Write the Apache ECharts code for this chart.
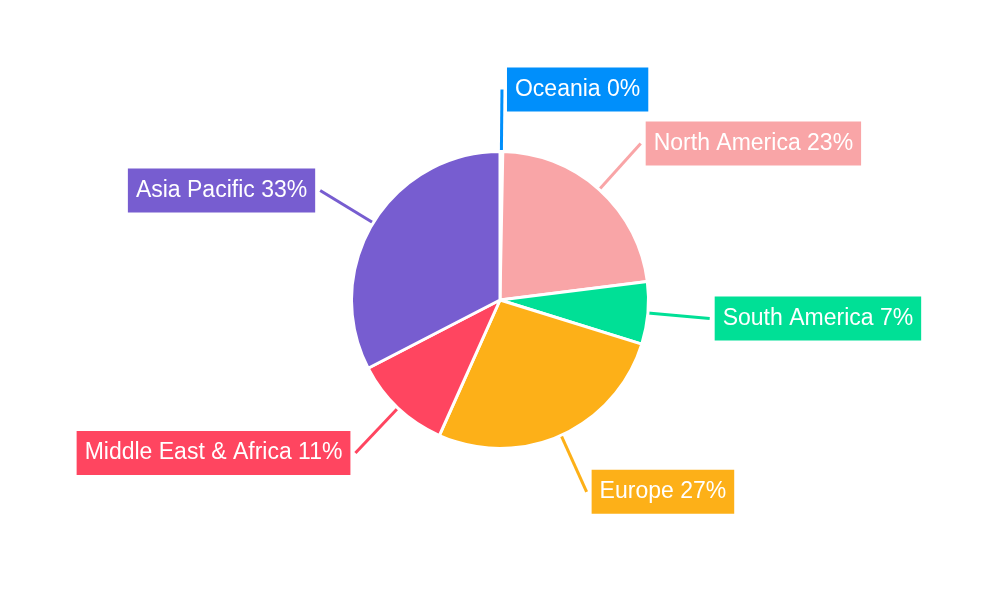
<!DOCTYPE html>
<html>
<head>
<meta charset="utf-8">
<script src="https://cdn.jsdelivr.net/npm/echarts@6/dist/echarts.min.js"></script>
<style>html,body{margin:0;padding:0;background:#fff}#chart{width:1000px;height:600px}</style>
</head>
<body>
<div id="chart"></div>
<script>
// regions, clockwise from the top
const regions = ['Oceania', 'North America', 'South America', 'Europe', 'Middle East & Africa', 'Asia Pacific']
const shares = [0.3, 22.7, 6.8, 26.9, 10.7, 32.6]
const colors = ['#008ffb', '#f9a5a7', '#00e096', '#fdb018', '#ff4560', '#775dd0']

const chart = echarts.init(document.getElementById('chart'))
chart.setOption({
  animation: false,
  series: [{
    type: 'pie',
    center: ['50%', '50%'],
    radius: '49.5%',
    startAngle: 90,
    clockwise: true,
    percentPrecision: 2,
    itemStyle: { borderColor: '#fff', borderWidth: 3 },
    label: {
      // plain rounding of each share, like the original
      formatter: p => p.name + ' ' + Math.round(p.percent) + '%',
      color: '#fff',
      fontSize: 23,
      fontFamily: 'Liberation Sans, Arial, sans-serif',
      padding: [11, 8, 10, 8],
      backgroundColor: 'inherit'
    },
    labelLine: { length: 62, length2: 0, lineStyle: { width: 3 } },
    data: regions.map((name, i) => ({
      name,
      value: shares[i],
      itemStyle: { color: colors[i] },
      label: { backgroundColor: colors[i] }
    }))
  }]
})
</script>
</body>
</html>
